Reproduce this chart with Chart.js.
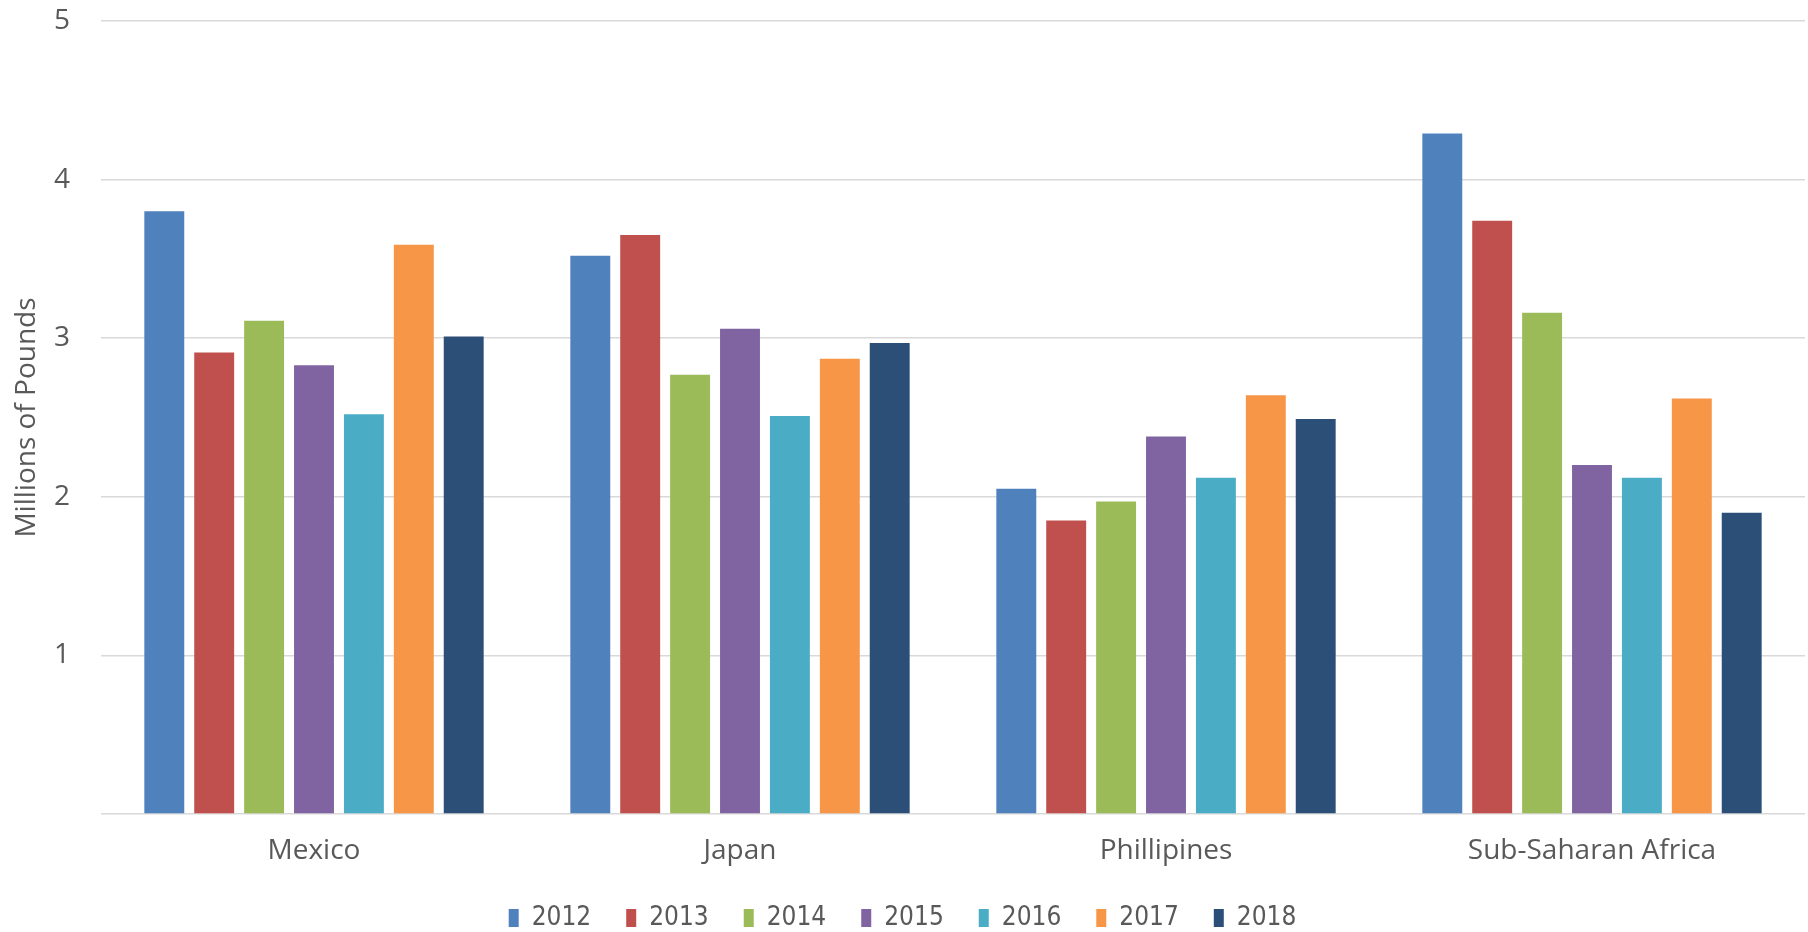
<!DOCTYPE html>
<html>
<head>
<meta charset="utf-8">
<script src="https://cdn.jsdelivr.net/npm/chart.js@4"></script>
<style>
  html, body { margin: 0; padding: 0; background: #fff; overflow: hidden; width: 1808px; height: 932px; }
  #wrap { position: absolute; left: 0; top: -24px; width: 1808px; height: 965px; }
</style>
</head>
<body>
<div id="wrap"><canvas id="bar-chartcanvas"></canvas></div>
<script>
// chart data
var regions = ["Mexico", "Japan", "Phillipines", "Sub-Saharan Africa"];
var years = ["2012", "2013", "2014", "2015", "2016", "2017", "2018"];
var v2012 = [3.80, 3.52, 2.05, 4.29];
var v2013 = [2.91, 3.65, 1.85, 3.74];
var v2014 = [3.11, 2.77, 1.97, 3.16];
var v2015 = [2.83, 3.06, 2.38, 2.20];
var v2016 = [2.52, 2.51, 2.12, 2.12];
var v2017 = [3.59, 2.87, 2.64, 2.62];
var v2018 = [3.01, 2.97, 2.49, 1.90];
var yTicks = [0, 1, 2, 3, 4, 5];

var series = [v2012, v2013, v2014, v2015, v2016, v2017, v2018];
var colors = ["#4F81BD", "#C0504D", "#9BBB59", "#8064A2", "#4BACC6", "#F79646", "#2C4F78"];

var datasets = [];
for (var i = 0; i < years.length; i++) {
	datasets.push({
		label : years[i],
		data : series[i],
		backgroundColor : colors[i],
		borderWidth : 0,
		categoryPercentage : 0.82,
		barPercentage : 0.8
	});
}

var ctx = document.getElementById("bar-chartcanvas");

var chart = new Chart(ctx, {
	type : "bar",
	data : { labels : regions, datasets : datasets },
	options : {
		responsive : true,
		maintainAspectRatio : false,
		animation : false,
		layout : { padding : { top : 0, right : 3, left : 0, bottom : 0 } },
		plugins : {
			tooltip : { enabled : false },
			legend : {
				display : true,
				position : "bottom",
				labels : {
					boxWidth : 10,
					boxHeight : 18,
					padding : 35,
					color : "#595959",
					font : { family : "'DejaVu Sans Condensed', sans-serif", size : 26 }
				}
			}
		},
		scales : {
			x : {
				afterFit : function(scale) { scale.height = 56; },
				grid : { display : false },
				border : { display : false },
				ticks : {
					color : "#595959",
					padding : 12,
					autoSkip : false,
					maxRotation : 0,
					font : { family : "'Open Sans', sans-serif", size : 28 }
				}
			},
			y : {
				min : 0,
				max : 5,
				afterFit : function(scale) { scale.width = 101; },
				afterBuildTicks : function(scale) {
					scale.ticks = yTicks.map(function(v) { return { value : v }; });
				},
				grid : { color : "#D9D9D9", lineWidth : 1.5, drawTicks : false },
				border : { display : false },
				ticks : {
					color : "#595959",
					padding : 31,
					callback : function(v) { return v === 0 ? "" : v; },
					font : { family : "'Open Sans', sans-serif", size : 28, lineHeight : 1 }
				},
				title : {
					display : true,
					text : "Millions of Pounds",
					color : "#595959",
					padding : { top : 10, bottom : 0 },
					font : { family : "'Open Sans', sans-serif", size : 28 }
				}
			}
		}
	}
});
</script>
</body>
</html>
